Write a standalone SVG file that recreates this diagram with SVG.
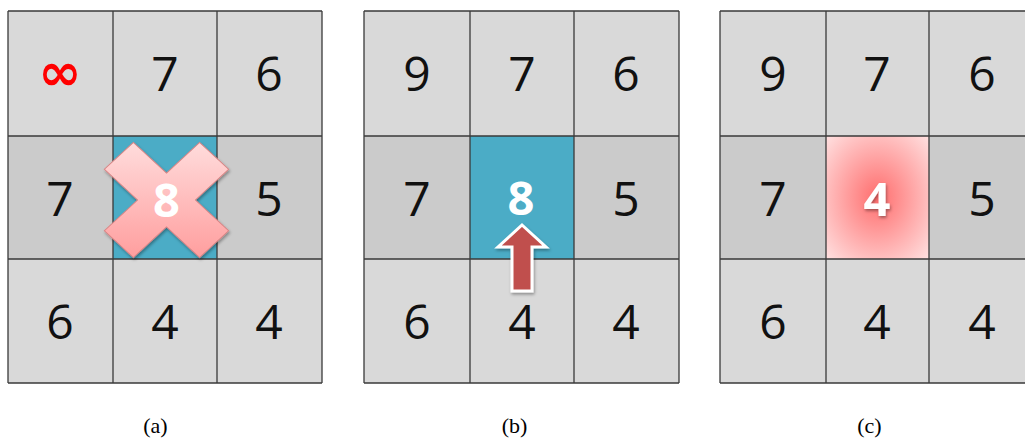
<svg xmlns="http://www.w3.org/2000/svg" width="1025" height="439" viewBox="0 0 1025 439">
  <style>
    .c1 { fill: #d9d9d9; }
    .c2 { fill: #cbcbcb; }
    .grid { stroke: #3a3a3a; stroke-width: 1.3; fill: none; }
    .num { font-family: 'Open Sans', 'Liberation Sans', sans-serif; font-size: 48px; fill: #111; text-anchor: middle; }
    .wnum { font-family: 'Open Sans', 'Liberation Sans', sans-serif; font-size: 47px; font-weight: bold; fill: #fff; text-anchor: middle; }
    .lbl { font-family: 'Liberation Serif', serif; font-size: 22px; fill: #000; text-anchor: middle; }
  </style>
  <defs>
    <linearGradient id="xg" x1="0" y1="0" x2="0" y2="1">
      <stop offset="0" stop-color="#ffdcdc"/>
      <stop offset="1" stop-color="#ff9e9e"/>
    </linearGradient>
    <radialGradient id="rg" cx="0.5" cy="0.5" r="0.7">
      <stop offset="0" stop-color="#ff6e6e"/>
      <stop offset="1" stop-color="#ffe0e0"/>
    </radialGradient>
    <filter id="sh" x="-20%" y="-20%" width="140%" height="140%">
      <feDropShadow dx="1" dy="2" stdDeviation="1.5" flood-color="#000" flood-opacity="0.35"/>
    </filter>
  </defs>

  <g id="panel-a">
    <rect class="c1" x="8" y="11" width="314" height="125"/>
    <rect class="c2" x="8" y="136" width="105" height="123"/>
    <rect fill="#4bacc6" x="113" y="136" width="104" height="123"/>
    <rect class="c2" x="217" y="136" width="105" height="123"/>
    <rect class="c1" x="8" y="259" width="314" height="124"/>
    <path class="grid" d="M8,11 H322 M8,136 H322 M8,259 H322 M8,383 H322 M8,11 V383 M113,11 V383 M217,11 V383 M322,11 V383"/>
    <text x="60" y="90" font-family="'DejaVu Sans', sans-serif" font-weight="bold" font-size="52" fill="#ff0000" text-anchor="middle">∞</text>
    <text class="num" x="165" y="91">7</text>
    <text class="num" x="269" y="91">6</text>
    <text class="num" x="60" y="216">7</text>
    <text class="num" x="269" y="216">5</text>
    <text class="num" x="60" y="339">6</text>
    <text class="num" x="165" y="339">4</text>
    <text class="num" x="269" y="339">4</text>
    <path transform="translate(166.5,200) scale(1.035,0.96)" filter="url(#sh)" fill="url(#xg)" stroke="#d98585" stroke-width="1" d="M0,-28 L32,-60 L60,-32 L28,0 L60,32 L32,60 L0,28 L-32,60 L-60,32 L-28,0 L-60,-32 L-32,-60 Z"/>
    <text class="wnum" x="166.5" y="217">8</text>
  </g>

  <g id="panel-b">
    <rect class="c1" x="364" y="11" width="315" height="125"/>
    <rect class="c2" x="364" y="136" width="106" height="123"/>
    <rect fill="#4bacc6" x="470" y="136" width="104" height="123"/>
    <rect class="c2" x="574" y="136" width="105" height="123"/>
    <rect class="c1" x="364" y="259" width="315" height="124"/>
    <path class="grid" d="M364,11 H679 M364,136 H679 M364,259 H679 M364,383 H679 M364,11 V383 M470,11 V383 M574,11 V383 M679,11 V383"/>
    <text class="num" x="417" y="91">9</text>
    <text class="num" x="522" y="91">7</text>
    <text class="num" x="626" y="91">6</text>
    <text class="num" x="417" y="216">7</text>
    <text class="num" x="626" y="216">5</text>
    <text class="num" x="417" y="339">6</text>
    <text class="num" x="522" y="339">4</text>
    <text class="num" x="626" y="339">4</text>
    <text class="wnum" x="521" y="215">8</text>
    <path filter="url(#sh)" fill="#c0504d" stroke="#ffffff" stroke-width="3" stroke-linejoin="miter" d="M522,225 L546,247 L532,247 L532,291 L512,291 L512,247 L498,247 Z"/>
  </g>

  <g id="panel-c">
    <rect class="c1" x="720" y="11" width="314" height="125"/>
    <rect class="c2" x="720" y="136" width="106" height="123"/>
    <rect fill="url(#rg)" x="826" y="136" width="103" height="123"/>
    <rect class="c2" x="929" y="136" width="105" height="123"/>
    <rect class="c1" x="720" y="259" width="314" height="124"/>
    <path class="grid" d="M720,11 H1034 M720,136 H1034 M720,259 H1034 M720,383 H1034 M720,11 V383 M826,11 V383 M929,11 V383"/>
    <text class="num" x="773" y="91">9</text>
    <text class="num" x="877" y="91">7</text>
    <text class="num" x="982" y="91">6</text>
    <text class="num" x="773" y="216">7</text>
    <text class="num" x="982" y="216">5</text>
    <text class="num" x="773" y="339">6</text>
    <text class="num" x="877" y="339">4</text>
    <text class="num" x="982" y="339">4</text>
    <text class="wnum" x="877" y="216" filter="url(#sh)">4</text>
  </g>

  <g id="labels">
    <text class="lbl" x="155.5" y="433">(a)</text>
    <text class="lbl" x="514.5" y="433">(b)</text>
    <text class="lbl" x="869.5" y="433">(c)</text>
  </g>
</svg>
